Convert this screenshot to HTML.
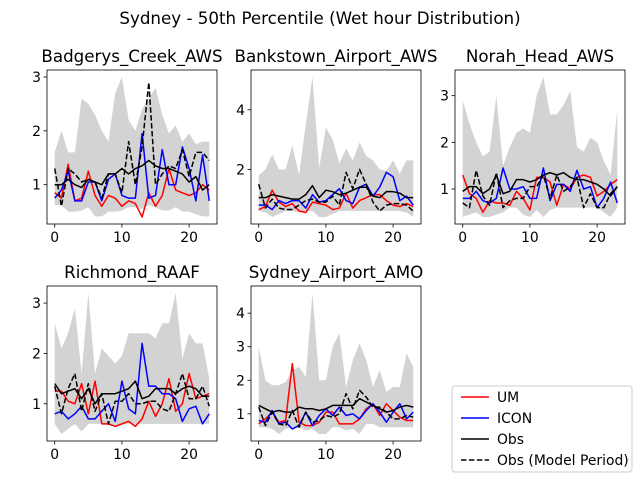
<!DOCTYPE html>
<html><head><meta charset="utf-8"><style>
body{margin:0;background:#fff}
svg text{font-family:"DejaVu Sans","Liberation Sans",sans-serif;fill:#000}
</style></head><body>
<svg id="chart" width="640" height="480" xmlns="http://www.w3.org/2000/svg">
<rect width="640" height="480" fill="#fff"/>
<text x="320" y="24" font-size="16.7" text-anchor="middle">Sydney - 50th Percentile (Wet hour Distribution)</text>
<g id="panels"></g>
<g>
<rect x="452" y="386" width="180" height="86" rx="3" fill="#fff" stroke="#ccc"/>
<g><line x1="461" y1="397" x2="489" y2="397" stroke="red" stroke-width="1.5"/><text x="497" y="402" font-size="13.9">UM</text></g>
<g><line x1="461" y1="418" x2="489" y2="418" stroke="blue" stroke-width="1.5"/><text x="497" y="423" font-size="13.9">ICON</text></g>
<g><line x1="461" y1="439" x2="489" y2="439" stroke="#000" stroke-width="1.5"/><text x="497" y="444" font-size="13.9">Obs</text></g>
<g><line x1="461" y1="460" x2="489" y2="460" stroke="#000" stroke-width="1.5" stroke-dasharray="5.5,2.4"/><text x="497" y="465" font-size="13.9">Obs (Model Period)</text></g>
</g>
</svg>
<script>
const stations = ["Badgerys_Creek_AWS","Bankstown_Airport_AWS","Norah_Head_AWS","Richmond_RAAF","Sydney_Airport_AMO"];
const hours = [0,1,2,3,4,5,6,7,8,9,10,11,12,13,14,15,16,17,18,19,20,21,22,23];
const xTicks = [0,10,20];
const yTicks = [[1,2,3],[2,4],[1,2,3],[1,2,3],[1,2,3,4]];
const bandUpper = [
[1.6,2.0,1.6,1.6,2.6,2.5,2.3,2.0,1.8,2.7,3.0,2.2,2.0,2.4,2.6,2.8,2.3,1.95,2.1,1.8,1.95,1.75,1.8,1.8],
[1.8,2.0,2.5,2.0,2.0,2.8,1.8,3.5,5.1,2.05,3.4,3.0,2.2,2.7,2.3,2.9,2.45,2.3,2.0,1.95,2.3,1.85,2.3,2.3],
[2.9,2.4,2.0,1.7,1.8,3.0,1.5,1.9,2.2,2.3,2.2,3.0,3.4,2.6,2.6,2.8,3.1,1.9,1.8,2.1,2.0,1.6,1.3,2.7],
[2.6,2.1,2.4,2.9,1.6,3.2,1.6,2.1,1.95,1.8,1.95,2.4,2.4,2.4,2.4,2.3,2.6,2.6,3.2,1.9,2.4,2.2,2.2,1.5],
[3.0,2.0,1.85,1.85,1.95,2.3,2.4,2.1,4.6,2.0,2.0,3.0,3.4,1.8,2.6,3.1,2.6,1.8,2.3,1.65,1.8,1.8,2.8,2.4]];
const bandLower = [
[0.62,0.62,0.5,0.5,0.52,0.58,0.41,0.41,0.5,0.5,0.52,0.58,0.58,0.55,0.62,0.58,0.52,0.52,0.58,0.5,0.5,0.45,0.41,0.41],
[0.6,0.55,0.4,0.5,0.6,0.6,0.55,0.6,0.6,0.4,0.4,0.5,0.6,0.6,0.6,0.6,0.6,0.6,0.6,0.6,0.6,0.6,0.55,0.4],
[0.4,0.45,0.5,0.4,0.4,0.45,0.5,0.6,0.6,0.45,0.4,0.55,0.4,0.55,0.6,0.6,0.6,0.6,0.6,0.6,0.6,0.5,0.4,0.6],
[0.6,0.4,0.5,0.6,0.45,0.6,0.6,0.6,0.6,0.55,0.6,0.6,0.6,0.6,0.6,0.6,0.6,0.6,0.6,0.6,0.6,0.6,0.6,0.6],
[0.6,0.6,0.55,0.4,0.55,0.6,0.6,0.5,0.55,0.4,0.4,0.6,0.6,0.5,0.55,0.4,0.7,0.7,0.6,0.6,0.6,0.6,0.6,0.6]];
const umValues = [
[0.85,0.75,1.38,0.7,0.75,1.25,0.8,0.6,0.8,0.75,0.6,0.7,0.65,0.4,0.85,0.6,0.8,1.3,0.9,0.85,0.8,0.85,1.0,0.9],
[0.65,0.75,1.3,0.9,0.75,0.85,0.6,0.55,0.9,0.85,0.8,0.65,0.7,1.2,0.7,0.95,1.05,1.15,1.15,0.95,0.8,0.75,0.85,0.75],
[1.3,0.9,0.8,0.5,0.75,0.7,0.7,0.65,0.95,0.8,0.55,1.25,1.25,1.15,0.65,1.1,1.0,1.25,1.3,1.25,0.85,0.95,1.1,1.2],
[1.25,1.25,1.05,1.0,1.4,0.8,1.45,0.6,0.6,0.55,0.6,0.65,0.55,0.7,1.05,0.75,1.0,1.5,0.85,1.0,1.6,1.1,1.15,1.2],
[0.7,0.85,1.05,0.75,0.8,2.5,0.75,0.65,0.65,0.75,1.05,1.05,0.7,0.7,0.7,0.85,1.15,1.3,0.95,1.3,1.1,0.9,0.8,0.8]];
const iconValues = [
[0.75,0.9,1.25,0.7,0.7,1.05,1.05,0.7,1.1,1.2,0.8,0.75,0.75,1.95,0.75,0.8,1.65,1.0,1.0,1.7,1.3,0.7,1.55,0.7],
[0.8,0.8,0.65,0.95,0.85,0.95,0.95,0.7,1.15,0.9,0.95,1.15,1.35,0.95,0.85,1.4,1.5,1.1,1.4,1.9,1.75,0.95,1.1,0.8],
[0.8,0.8,0.95,0.75,0.7,0.8,1.45,1.0,1.0,1.05,0.8,0.8,1.45,0.75,1.1,1.1,0.95,1.4,1.0,1.05,0.6,0.8,1.15,0.7],
[0.8,0.85,0.7,0.8,0.95,0.7,0.7,0.85,1.0,0.65,1.45,0.9,0.8,2.2,1.35,1.35,1.2,1.2,1.1,0.65,0.9,0.95,0.6,0.8],
[0.8,0.75,1.1,0.7,0.75,0.55,0.65,1.05,0.65,0.95,1.15,0.95,1.2,0.95,1.0,0.85,1.1,1.3,1.05,0.75,1.05,1.3,0.85,1.05]];
const obsValues = [
[1.0,1.0,1.1,1.0,0.95,1.1,1.05,1.0,1.2,1.2,1.3,1.2,1.3,1.35,1.45,1.35,1.3,1.3,1.25,1.2,1.05,1.15,0.9,1.0],
[1.05,1.05,1.15,1.1,1.05,1.0,1.0,1.15,1.45,1.05,1.3,1.25,1.15,1.2,1.3,1.4,1.4,1.1,1.05,1.25,1.25,1.2,1.05,1.05],
[0.95,1.05,1.05,0.9,1.0,1.3,0.9,0.95,1.2,1.2,1.15,1.2,1.3,1.35,1.3,1.35,1.25,1.2,1.2,1.15,1.1,1.0,0.85,1.05],
[1.4,1.2,1.25,1.3,1.1,1.3,1.0,1.2,1.2,1.2,1.25,1.3,1.45,1.1,1.15,1.3,1.3,1.3,1.2,1.3,1.35,1.3,1.15,1.15],
[1.25,1.15,1.05,1.1,1.05,1.05,1.2,1.15,1.15,1.1,1.15,1.25,1.25,1.25,1.25,1.45,1.35,1.25,1.15,1.05,1.1,1.2,1.25,1.2]];
const obsModelValues = [
[1.3,0.6,1.3,1.2,1.05,1.1,1.05,0.75,1.2,1.2,0.85,1.8,1.0,1.7,2.9,1.0,1.2,1.35,1.3,1.65,1.15,1.6,1.6,1.45],
[1.5,0.7,1.0,0.7,0.65,0.65,0.8,0.95,1.0,0.9,0.9,1.1,0.8,1.9,1.35,2.0,1.5,0.9,0.6,0.8,0.85,0.85,0.8,0.6],
[0.7,0.6,1.4,0.85,0.65,1.35,0.6,0.75,0.8,0.8,1.05,1.05,1.3,0.8,1.3,0.95,1.05,1.25,0.6,0.9,0.6,0.6,0.9,1.05],
[1.35,0.8,1.3,1.6,0.85,1.4,0.85,1.2,0.6,1.05,1.05,1.2,1.0,1.0,1.05,1.05,0.9,0.85,1.2,1.6,1.1,1.1,1.35,0.95],
[1.2,0.65,1.05,0.7,0.65,1.1,0.6,1.05,0.75,0.8,0.95,0.9,1.0,1.6,1.15,1.7,1.5,1.2,1.2,1.05,0.85,0.85,0.95,0.9]];

const NS="http://www.w3.org/2000/svg";
const boxes=[[47,70,170,154],[251,70,170,154],[455,70,170,154],[47,286,170,155],[251,286,170,155]];
function mk(tag,attrs,parent){const e=document.createElementNS(NS,tag);for(const k in attrs)e.setAttribute(k,attrs[k]);parent.appendChild(e);return e;}
const root=document.getElementById('panels');
stations.forEach((name,i)=>{
  const [bx,by,bw,bh]=boxes[i];
  const g=mk('g',{},root);
  
  
  const all=[].concat(bandUpper[i],bandLower[i],umValues[i],iconValues[i],obsValues[i],obsModelValues[i]);
  let lo=Math.min(...all),hi=Math.max(...all);const pad=(hi-lo)*0.05;lo-=pad;hi+=pad;
  const xmin=hours[0]-(hours[hours.length-1]-hours[0])*0.05,xmax=hours[hours.length-1]+(hours[hours.length-1]-hours[0])*0.05;
  const X=h=>bx+(h-xmin)/(xmax-xmin)*bw;
  const Y=v=>by+bh-(v-lo)/(hi-lo)*bh;
  const band=mk('polygon',{fill:'#d3d3d3',points:hours.map((h,k)=>X(h)+','+Y(bandUpper[i][k])).concat(hours.slice().reverse().map((h,k)=>X(h)+','+Y(bandLower[i][hours.length-1-k]))).join(' ')},g);
  
  
  const series=[[umValues[i],'red','','um-line'],[iconValues[i],'blue','','icon-line'],[obsValues[i],'#000','','obs-line'],[obsModelValues[i],'#000','5.5,2.4','obs-model-period-line']];
  series.forEach(([vals,col,dash,nm])=>{
    const p=mk('polyline',{fill:'none',stroke:col,'stroke-width':1.5,'stroke-dasharray':dash||'none','stroke-linejoin':'round',points:hours.map((h,k)=>X(h)+','+Y(vals[k])).join(' ')},g);
    
    
  });
  const fr=mk('rect',{x:bx,y:by,width:bw,height:bh,fill:'none',stroke:'#000','stroke-width':0.8},g);
  
  
  const t=mk('text',{x:bx+bw/2,y:by-8,'font-size':16.7,'text-anchor':'middle'},g);t.textContent=name;
  
  
  xTicks.forEach(v=>{mk('line',{x1:X(v),x2:X(v),y1:by+bh,y2:by+bh+3.5,stroke:'#000','stroke-width':0.8},g);
    const l=mk('text',{x:X(v),y:by+bh+18,'font-size':13.9,'text-anchor':'middle'},g);l.textContent=v;
    
    });
  yTicks[i].forEach(v=>{mk('line',{x1:bx-3.5,x2:bx,y1:Y(v),y2:Y(v),stroke:'#000','stroke-width':0.8},g);
    const l=mk('text',{x:bx-6,y:Y(v)+5,'font-size':13.9,'text-anchor':'end'},g);l.textContent=v;
    
    });
});
</script>
</body></html>
